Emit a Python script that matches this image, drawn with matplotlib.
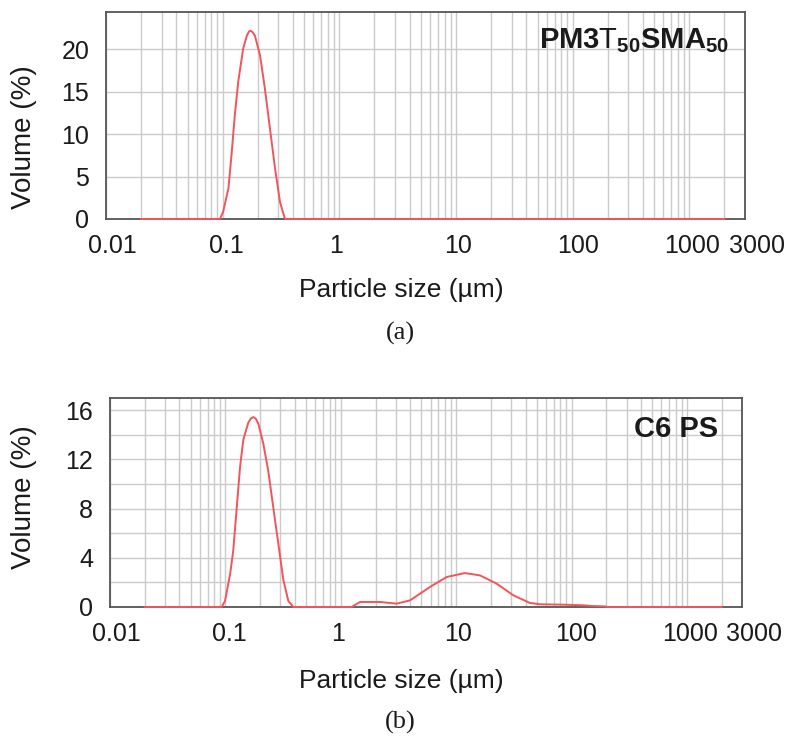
import matplotlib
matplotlib.use('Agg')
import matplotlib.pyplot as plt
from matplotlib.ticker import LogLocator, NullFormatter, MultipleLocator
from matplotlib.transforms import ScaledTranslation

plt.rcParams['font.family'] = ['Liberation Sans', 'DejaVu Sans']
plt.rcParams['mathtext.fontset'] = 'custom'
plt.rcParams['mathtext.rm'] = 'Liberation Sans'
plt.rcParams['mathtext.bf'] = 'Liberation Sans:bold'

# (a) PM3T50SMA50 volume distribution
size_a = [0.02, 0.0948, 0.101, 0.112, 0.119, 0.127, 0.136, 0.150, 0.161, 0.168,
          0.174, 0.181, 0.189, 0.209, 0.230, 0.254, 0.281, 0.310, 0.342, 2000]
vol_a = [0, 0, 0.86, 3.6, 7.5, 12.2, 16.2, 20.1, 21.6, 22.1,
         22.2, 22.0, 21.6, 19.3, 15.4, 10.7, 6.0, 2.0, 0, 0]

# (b) C6 PS volume distribution
size_b = [0.02, 0.0929, 0.0993, 0.110, 0.117, 0.125, 0.134, 0.143, 0.158, 0.167,
          0.175, 0.184, 0.193, 0.213, 0.235, 0.260, 0.287, 0.318, 0.351, 0.388,
          1.24, 1.47, 2.19, 3.05, 3.98, 5.93, 8.27, 11.9, 16.1, 22.4, 31.3,
          43.6, 53.2, 84.2, 125.6, 153, 195, 205, 2000]
vol_b = [0, 0, 0.5, 2.7, 4.6, 7.9, 11.4, 13.6, 15.0, 15.35,
         15.45, 15.3, 14.9, 13.3, 11.1, 8.1, 5.2, 2.2, 0.5, 0,
         0, 0.41, 0.41, 0.27, 0.54, 1.63, 2.44, 2.76, 2.57, 1.90, 0.95,
         0.33, 0.22, 0.19, 0.14, 0.08, 0.05, 0, 0]

xtick_vals = [0.01, 0.1, 1, 10, 100, 1000, 3000]
xtick_labels = ['0.01', '0.1', '1', '10', '100', '1000', '3000']
# nudge (px) so the last two labels don't run together
xtick_nudge = [6, 4, -3, 2, 5, 3, 12]

red = '#f2545b'
grid_col = '#cbcbcb'
frame_col = '#555555'
txt = '#1a1a1a'

fig = plt.figure(figsize=(7.95, 7.4), dpi=100)
ax1 = fig.add_axes([106 / 795, 1 - 219 / 740, 639 / 795, 207 / 740])
ax2 = fig.add_axes([110 / 795, 1 - 607 / 740, 632 / 795, 209 / 740])


def style(ax, ymax, ymajor, yminor):
    ax.set_xscale('log')
    ax.set_xlim(0.01, 3000)
    ax.set_ylim(0, ymax)
    ax.xaxis.set_minor_locator(LogLocator(base=10, subs=range(2, 10), numticks=20))
    ax.xaxis.set_minor_formatter(NullFormatter())
    ax.set_xticks(xtick_vals)
    ax.set_xticklabels(xtick_labels)
    ax.yaxis.set_major_locator(MultipleLocator(ymajor))
    ax.yaxis.set_minor_locator(MultipleLocator(yminor))
    ax.grid(which='both', color=grid_col, linewidth=1.0)
    ax.set_axisbelow(True)
    ax.tick_params(which='both', length=0, labelsize=18, colors=txt)
    ax.tick_params(axis='x', pad=11)
    ax.tick_params(axis='y', pad=12)
    for sp in ax.spines.values():
        sp.set_color(frame_col)
        sp.set_linewidth(1.3)
    # after tick_params, otherwise the pad update resets the label transforms
    for tick, dx in zip(ax.xaxis.get_major_ticks(), xtick_nudge):
        tick.label1.set_transform(tick.label1.get_transform()
                                  + ScaledTranslation(dx / 100, 0, fig.dpi_scale_trans))


style(ax1, 24.4, 5, 5)
style(ax2, 17, 4, 2)

ax1.plot(size_a, vol_a, color=red, linewidth=1.4, clip_on=False, zorder=5)
ax2.plot(size_b, vol_b, color=red, linewidth=1.4, clip_on=False, zorder=5)

ax1.text(0.975, 0.93, r'$\mathbf{PM3}\mathrm{T}_{\mathbf{50}}\mathbf{SMA}_{\mathbf{50}}$',
         transform=ax1.transAxes, ha='right', va='top', fontsize=21, color=txt)
ax2.text(0.962, 0.92, 'C6 PS', transform=ax2.transAxes, ha='right', va='top',
         fontsize=21, fontweight='bold', color=txt)

for y, lab in [(137, 'Volume (%)'), (497, 'Volume (%)')]:
    fig.text(24 / 795, 1 - y / 740, lab, rotation=90, ha='center', va='center',
             fontsize=20, color=txt)

fig.text(401 / 795, 1 - 290 / 740, 'Particle size (\u00b5m)', ha='center', va='center',
         fontsize=19, color=txt)
fig.text(401 / 795, 1 - 681 / 740, 'Particle size (\u00b5m)', ha='center', va='center',
         fontsize=19, color=txt)

fig.text(400 / 795, 1 - 333 / 740, '(a)', ha='center', va='center', fontsize=19,
         family='Liberation Serif', color=txt)
fig.text(400 / 795, 1 - 722 / 740, '(b)', ha='center', va='center', fontsize=19,
         family='Liberation Serif', color=txt)

fig.savefig('out.png', dpi=100)
